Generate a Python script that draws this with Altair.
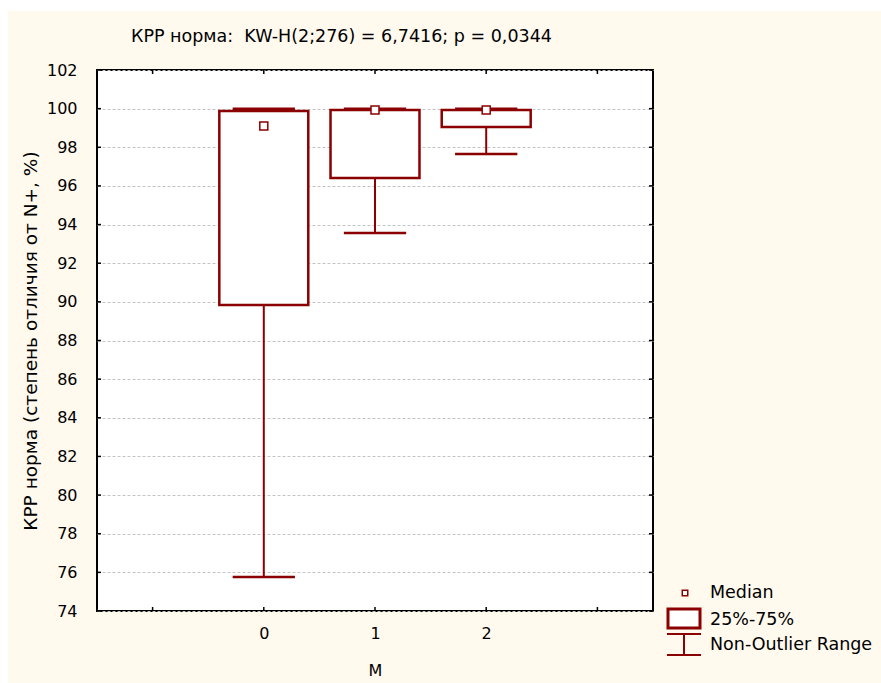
import altair as alt
import pandas as pd

# ---- data ----
categories = [0, 1, 2]
whisker_low = [75.76, 93.56, 97.65]
q1 = [89.84, 96.41, 99.05]
median = [99.10, 99.93, 99.93]
q3 = [99.88, 99.93, 99.93]
whisker_high = [100.0, 100.0, 100.0]

y_ticks = list(range(74, 103, 2))
x_ticks = [-1, 0, 1, 2, 3]
x_labels = [0, 1, 2]

title_text = "КРР норма:\u00a0 KW-H(2;276) = 6,7416; p = 0,0344"
y_title = "КРР норма (степень отличия от N+, %)"
x_title = "M"
legend_labels = ["Median", "25%-75%", "Non-Outlier Range"]

# ---- styling ----
W, H = 556, 541
RED = "#8b0000"
CREAM = "#fff9ee"
FONT = "DejaVu Sans"

df = pd.DataFrame(dict(M=categories, lo=whisker_low, q1=q1, med=median,
                       q3=q3, hi=whisker_high))
ytick_df = pd.DataFrame({"v": y_ticks})
xtick_df = pd.DataFrame({"v": x_ticks})
dummy = pd.DataFrame({"d": [0]})

xscale = alt.Scale(domain=[-1.5, 3.5], nice=False, zero=False)
yscale = alt.Scale(domain=[74, 102], nice=False, zero=False)

x_axis = alt.Axis(title=x_title, values=x_labels, ticks=False, domain=False,
                  grid=False, labelPadding=14, titlePadding=21, format="d")
y_axis = alt.Axis(title=y_title, values=y_ticks, ticks=False, domain=False,
                  grid=True, gridColor="#c4c4c4", gridDash=[3, 2],
                  gridWidth=1, labelPadding=20, titlePadding=6,
                  titleFontSize=18.5)

base = alt.Chart(df).transform_calculate(
    left="datum.M - 0.4", right="datum.M + 0.4",
    capl="datum.M - 0.28", capr="datum.M + 0.28")

# white strips at top/left of image
strip_top = alt.Chart(dummy).mark_rect(color="white").encode(
    x=alt.value(-97), x2=alt.value(W + 228), y=alt.value(-70), y2=alt.value(-59))
strip_left = alt.Chart(dummy).mark_rect(color="white").encode(
    x=alt.value(-97), x2=alt.value(-89), y=alt.value(-70), y2=alt.value(H + 72))

# chart title as text
title_mark = alt.Chart(pd.DataFrame({"t": [title_text]})).mark_text(
    align="left", baseline="middle", font=FONT, fontSize=17.5, color="black"
).encode(text="t:N", x=alt.value(34), y=alt.value(-33))

whisk_low = base.mark_rule(color=RED, strokeWidth=2).encode(
    x=alt.X("M:Q", scale=xscale, axis=x_axis),
    y=alt.Y("lo:Q", scale=yscale, axis=y_axis), y2="q1:Q")
whisk_high = base.mark_rule(color=RED, strokeWidth=2).encode(
    x=alt.X("M:Q", scale=xscale, axis=x_axis),
    y=alt.Y("q3:Q", scale=yscale, axis=y_axis), y2="hi:Q")
cap_low = base.mark_rule(color=RED, strokeWidth=2.5).encode(
    x=alt.X("capl:Q", scale=xscale, axis=x_axis), x2="capr:Q",
    y=alt.Y("lo:Q", scale=yscale, axis=y_axis))
cap_high = base.mark_rule(color=RED, strokeWidth=2.5).encode(
    x=alt.X("capl:Q", scale=xscale, axis=x_axis), x2="capr:Q",
    y=alt.Y("hi:Q", scale=yscale, axis=y_axis))
box = base.mark_rect(fill="white", stroke=RED, strokeWidth=2.5).encode(
    x=alt.X("left:Q", scale=xscale, axis=x_axis), x2="right:Q",
    y=alt.Y("q1:Q", scale=yscale, axis=y_axis), y2="q3:Q")
med = base.mark_square(size=64, fill="white", stroke=RED, strokeWidth=1.5,
                       opacity=1).encode(
    x=alt.X("M:Q", scale=xscale, axis=x_axis),
    y=alt.Y("med:Q", scale=yscale, axis=y_axis))

# inward ticks on all four sides
tick_style = dict(color="black", strokeWidth=1.5)
t_left = alt.Chart(ytick_df).mark_rule(**tick_style).encode(
    y=alt.Y("v:Q", scale=yscale, axis=y_axis), x=alt.value(0), x2=alt.value(4))
t_right = alt.Chart(ytick_df).mark_rule(**tick_style).encode(
    y=alt.Y("v:Q", scale=yscale, axis=y_axis), x=alt.value(W - 4), x2=alt.value(W))
t_bottom = alt.Chart(xtick_df).mark_rule(**tick_style).encode(
    x=alt.X("v:Q", scale=xscale, axis=x_axis), y=alt.value(H - 4), y2=alt.value(H))
t_top = alt.Chart(xtick_df).mark_rule(**tick_style).encode(
    x=alt.X("v:Q", scale=xscale, axis=x_axis), y=alt.value(0), y2=alt.value(4))

# manual legend
lg_med = alt.Chart(dummy).mark_square(size=30, fill="white", stroke=RED,
                                      strokeWidth=1.5, opacity=1).encode(
    x=alt.value(588), y=alt.value(523))
lg_box = alt.Chart(dummy).mark_rect(fill="white", stroke=RED, strokeWidth=3).encode(
    x=alt.value(571), x2=alt.value(603), y=alt.value(539), y2=alt.value(558))
lg_w1 = alt.Chart(dummy).mark_rule(color=RED, strokeWidth=2).encode(
    x=alt.value(570), x2=alt.value(604), y=alt.value(564))
lg_w2 = alt.Chart(dummy).mark_rule(color=RED, strokeWidth=2).encode(
    x=alt.value(570), x2=alt.value(604), y=alt.value(585))
lg_w3 = alt.Chart(dummy).mark_rule(color=RED, strokeWidth=2).encode(
    x=alt.value(587), y=alt.value(564), y2=alt.value(585))

legend_y = [523, 550, 575]
lg_texts = [
    alt.Chart(pd.DataFrame({"t": [lab]})).mark_text(
        align="left", baseline="middle", font=FONT, fontSize=17.5, color="black"
    ).encode(text="t:N", x=alt.value(613), y=alt.value(yy))
    for lab, yy in zip(legend_labels, legend_y)
]

chart = alt.layer(
    strip_top, strip_left, title_mark,
    whisk_low, whisk_high, box, cap_low, cap_high, med,
    t_left, t_right, t_bottom, t_top,
    lg_med, lg_box, lg_w1, lg_w2, lg_w3, *lg_texts
).properties(
    width=W, height=H,
    autosize=alt.AutoSizeParams(type="none"),
    padding={"left": 97, "top": 70, "right": 228, "bottom": 72},
    background=CREAM,
).configure_view(
    stroke="black", strokeWidth=2, fill="white"
).configure_axis(
    labelFont=FONT, labelFontSize=16, labelColor="black",
    titleFont=FONT, titleFontSize=16, titleFontWeight="normal", titleColor="black",
)

chart.save("out.html", embed_options={"renderer": "svg", "actions": False})
